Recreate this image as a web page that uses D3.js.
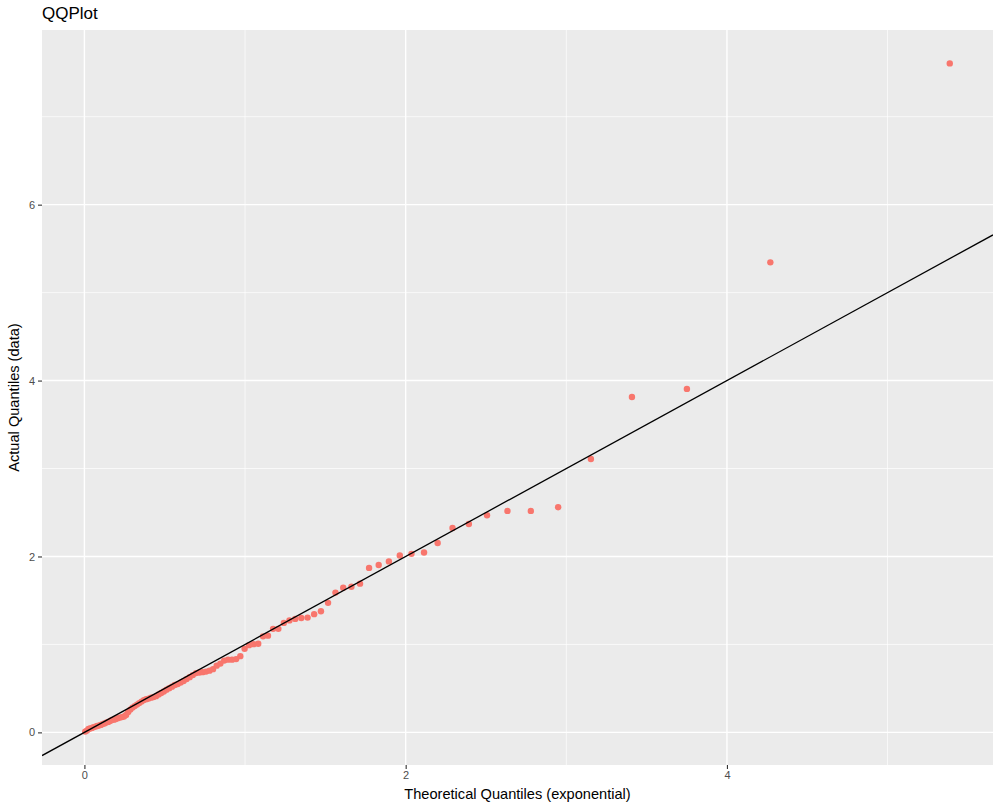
<!DOCTYPE html>
<html>
<head>
<meta charset="utf-8">
<script src="https://cdn.jsdelivr.net/npm/d3@7"></script>
<style>
  html, body { margin: 0; padding: 0; background: #fff; }
  svg { display: block; font-family: "Liberation Sans", Arial, Helvetica, sans-serif; }
</style>
</head>
<body>
<svg id="chart" width="1000" height="809"></svg>
<script>
// Theoretical exponential quantiles (x) and sorted sample values (y)
const theoretical = [
  0.0051, 0.0154, 0.0257, 0.0362, 0.0468, 0.0575, 0.0683, 0.0793, 0.0903, 0.1015,
  0.1128, 0.1242, 0.1358, 0.1475, 0.1593, 0.1712, 0.1834, 0.1956, 0.2080, 0.2206,
  0.2333, 0.2461, 0.2592, 0.2724, 0.2858, 0.2993, 0.3131, 0.3270, 0.3411, 0.3554,
  0.3700, 0.3847, 0.3996, 0.4148, 0.4302, 0.4459, 0.4618, 0.4779, 0.4943, 0.5110,
  0.5279, 0.5451, 0.5627, 0.5805, 0.5987, 0.6172, 0.6360, 0.6552, 0.6747, 0.6947,
  0.7150, 0.7358, 0.7569, 0.7786, 0.8007, 0.8233, 0.8464, 0.8700, 0.8942, 0.9190,
  0.9445, 0.9705, 0.9973, 1.0248, 1.0530, 1.0821, 1.1120, 1.1428, 1.1746, 1.2074,
  1.2413, 1.2763, 1.3126, 1.3503, 1.3894, 1.4301, 1.4725, 1.5167, 1.5629, 1.6113,
  1.6622, 1.7157, 1.7722, 1.8320, 1.8956, 1.9634, 2.0361, 2.1143, 2.1991, 2.2916,
  2.3934, 2.5065, 2.6337, 2.7792, 2.9491, 3.1531, 3.4087, 3.7508, 4.2702, 5.3872
];
const actual = [
  0.009, 0.020, 0.038, 0.045, 0.051, 0.060, 0.066, 0.072, 0.077, 0.085,
  0.094, 0.102, 0.111, 0.119, 0.128, 0.140, 0.145, 0.151, 0.162, 0.168,
  0.174, 0.180, 0.197, 0.231, 0.259, 0.282, 0.299, 0.316, 0.333, 0.350,
  0.367, 0.378, 0.384, 0.395, 0.401, 0.412, 0.430, 0.447, 0.464, 0.486,
  0.503, 0.520, 0.538, 0.549, 0.566, 0.583, 0.606, 0.628, 0.651, 0.674,
  0.680, 0.685, 0.691, 0.702, 0.719, 0.759, 0.782, 0.816, 0.827, 0.827,
  0.833, 0.867, 0.950, 0.992, 1.003, 1.007, 1.092, 1.100, 1.177, 1.177,
  1.245, 1.273, 1.290, 1.301, 1.305, 1.344, 1.378, 1.473, 1.589, 1.645,
  1.655, 1.691, 1.870, 1.903, 1.944, 2.011, 2.030, 2.045, 2.153, 2.324,
  2.369, 2.469, 2.518, 2.518, 2.560, 3.109, 3.814, 3.905, 5.344, 7.606
];
const xTicks = [0, 2, 4];
const yTicks = [0, 2, 4, 6];
const xMinor = [1, 3, 5];
const yMinor = [1, 3, 5, 7];
const refLine = { intercept: 0, slope: 1 };

const svg = d3.select("#chart");
const W = 1000, H = 809;
const m = { left: 42, right: 7, top: 30, bottom: 44 };
const pw = W - m.left - m.right, ph = H - m.top - m.bottom;

function expand(ext) { const r = ext[1] - ext[0]; return [ext[0] - 0.05 * r, ext[1] + 0.05 * r]; }
const x = d3.scaleLinear().domain(expand(d3.extent(theoretical))).range([m.left, m.left + pw]);
const y = d3.scaleLinear().domain(expand(d3.extent(actual))).range([m.top + ph, m.top]);

// panel
svg.append("rect").attr("x", m.left).attr("y", m.top).attr("width", pw).attr("height", ph).attr("fill", "#EBEBEB");

svg.append("clipPath").attr("id", "clip").append("rect")
  .attr("x", m.left).attr("y", m.top).attr("width", pw).attr("height", ph);

const grid = svg.append("g");
grid.selectAll(".xm").data(xMinor).join("line")
  .attr("x1", d => x(d)).attr("x2", d => x(d)).attr("y1", m.top).attr("y2", m.top + ph)
  .attr("stroke", "#fff").attr("stroke-width", 0.7);
grid.selectAll(".ym").data(yMinor).join("line")
  .attr("y1", d => y(d)).attr("y2", d => y(d)).attr("x1", m.left).attr("x2", m.left + pw)
  .attr("stroke", "#fff").attr("stroke-width", 0.7);
grid.selectAll(".xM").data(xTicks).join("line")
  .attr("x1", d => x(d)).attr("x2", d => x(d)).attr("y1", m.top).attr("y2", m.top + ph)
  .attr("stroke", "#fff").attr("stroke-width", 1.4);
grid.selectAll(".yM").data(yTicks).join("line")
  .attr("y1", d => y(d)).attr("y2", d => y(d)).attr("x1", m.left).attr("x2", m.left + pw)
  .attr("stroke", "#fff").attr("stroke-width", 1.4);

// points
const pts = d3.zip(theoretical, actual);
svg.append("g").attr("clip-path", "url(#clip)")
  .selectAll("circle").data(pts).join("circle")
  .attr("cx", d => x(d[0])).attr("cy", d => y(d[1])).attr("r", 3.2)
  .attr("fill", "#F8766D");

// reference line y = x
const xd = x.domain();
svg.append("g").attr("clip-path", "url(#clip)").append("line")
  .attr("x1", x(xd[0])).attr("y1", y(refLine.intercept + refLine.slope * xd[0]))
  .attr("x2", x(xd[1])).attr("y2", y(refLine.intercept + refLine.slope * xd[1]))
  .attr("stroke", "#000").attr("stroke-width", 1.3);

// axes
const xAxis = d3.axisBottom(x).tickValues(xTicks).tickSize(4).tickPadding(2).tickFormat(d3.format("d"));
const gx = svg.append("g").attr("transform", `translate(0,${m.top + ph})`).call(xAxis);
gx.select(".domain").remove();
gx.selectAll(".tick line").attr("stroke", "#333").attr("stroke-width", 1.1);
gx.selectAll(".tick text").attr("fill", "#4D4D4D").attr("font-size", 11).attr("font-family", "Liberation Sans, Arial, sans-serif");

const yAxis = d3.axisLeft(y).tickValues(yTicks).tickSize(4).tickPadding(3).tickFormat(d3.format("d"));
const gy = svg.append("g").attr("transform", `translate(${m.left},0)`).call(yAxis);
gy.select(".domain").remove();
gy.selectAll(".tick line").attr("stroke", "#333").attr("stroke-width", 1.1);
gy.selectAll(".tick text").attr("fill", "#4D4D4D").attr("font-size", 11).attr("font-family", "Liberation Sans, Arial, sans-serif");

// titles
svg.append("text").attr("x", m.left).attr("y", 19).attr("font-size", 17).attr("fill", "#000").text("QQPlot");
svg.append("text").attr("x", m.left + pw / 2).attr("y", 799).attr("text-anchor", "middle")
  .attr("font-size", 14.6).attr("fill", "#000").text("Theoretical Quantiles (exponential)");
svg.append("text").attr("transform", `translate(19,${m.top + ph / 2}) rotate(-90)`).attr("text-anchor", "middle")
  .attr("font-size", 14.6).attr("fill", "#000").text("Actual Quantiles (data)");
</script>
</body>
</html>
